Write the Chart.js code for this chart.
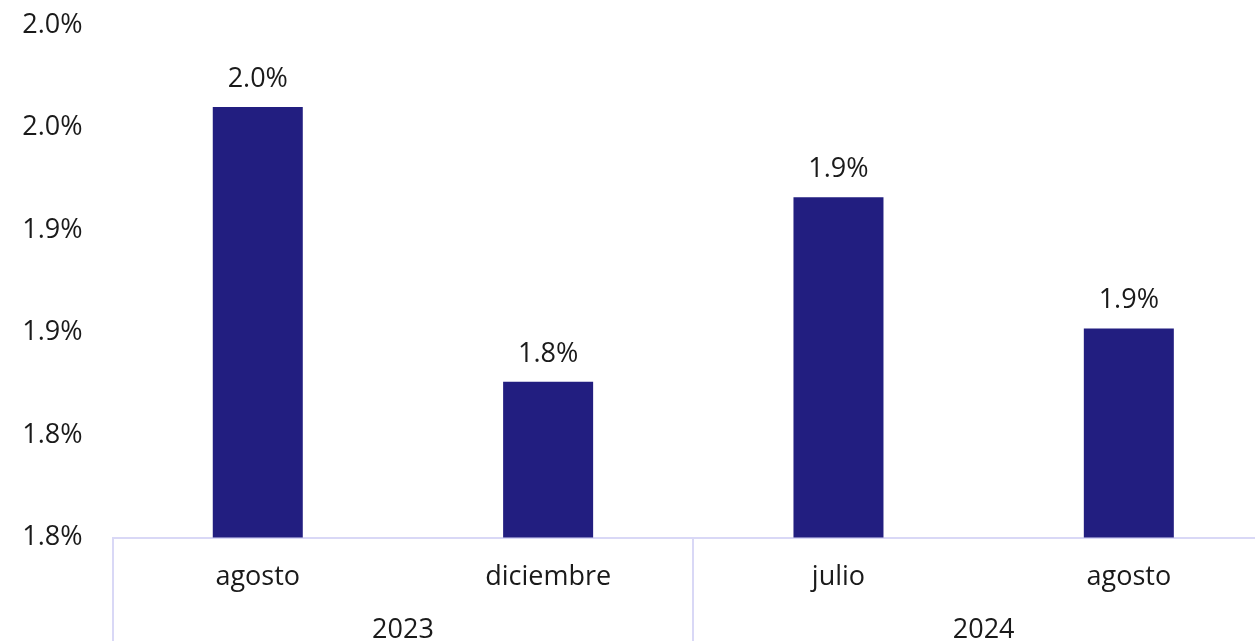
<!DOCTYPE html>
<html>
<head>
<meta charset="utf-8">
<script src="https://cdn.jsdelivr.net/npm/chart.js@4"></script>
<style>
    html, body { margin: 0; padding: 0; background: #fff; overflow: hidden; }
    #wrap { position: absolute; left: 0; top: 0; width: 1274px; height: 660px; }
</style>
</head>
<body>
<div id="wrap"><canvas id="bar-chart"></canvas></div>
<script>
// Chart data
var months = ['agosto', 'diciembre', 'julio', 'agosto'];
var years = ['2023', '2024'];
var values = [1.96, 1.826, 1.916, 1.852];
var valueLabels = ['2.0%', '1.8%', '1.9%', '1.9%'];
var yTickLabels = ['1.8%', '1.8%', '1.9%', '1.9%', '2.0%', '2.0%'];

var barColor = '#221e80';
var lineColor = '#d9d8f6';
var textColor = '#1a1a1a';
var font = { family: '"Open Sans", sans-serif', size: 27 };

// Labels above the bars
var valueLabelPlugin = {
    id: 'valueLabels',
    afterDatasetsDraw: function(chart) {
        var ctx = chart.ctx;
        var meta = chart.getDatasetMeta(0);
        ctx.save();
        ctx.font = font.size + 'px ' + font.family;
        ctx.fillStyle = textColor;
        ctx.textAlign = 'center';
        ctx.textBaseline = 'alphabetic';
        meta.data.forEach(function(bar, i) {
            ctx.fillText(valueLabels[i], bar.x, bar.y - 20);
        });
        ctx.restore();
    }
};

var chart = new Chart(document.getElementById('bar-chart'), {
    type: 'bar',
    data: {
        labels: months,
        datasets: [{
            data: values,
            backgroundColor: barColor,
            borderWidth: 0,
            categoryPercentage: 1,
            barPercentage: 0.31
        }]
    },
    options: {
        responsive: true,
        maintainAspectRatio: false,
        animation: false,
        layout: { padding: { top: 25, left: 0, right: 0, bottom: 0 } },
        plugins: {
            legend: { display: false },
            tooltip: { enabled: false }
        },
        scales: {
            y: {
                min: 1.75,
                max: 2.0,
                // invisible tick marks keep the labels away from the plot
                grid: { display: true, drawOnChartArea: false, drawTicks: true, tickLength: 30, color: 'rgba(0,0,0,0)' },
                border: { display: false },
                ticks: {
                    stepSize: 0.05,
                    padding: 0,
                    color: textColor,
                    font: font,
                    callback: function(value, index) {
                        return yTickLabels[index];
                    }
                },
                afterFit: function(scale) { scale.width = 112.6; }
            },
            x: {
                offset: true,
                grid: {
                    offset: true,
                    drawOnChartArea: false,
                    drawTicks: true,
                    tickLength: 130,
                    lineWidth: 2,
                    // only the group edges get a line
                    color: function(c) {
                        return (c.type !== 'tick' || c.index % 2 === 0) ? lineColor : 'rgba(0,0,0,0)';
                    }
                },
                border: { display: true, color: lineColor, width: 2 },
                ticks: { padding: -106, color: textColor, font: font, maxRotation: 0 },
                afterFit: function(scale) { scale.height = 70; }
            },
            x2: {
                type: 'category',
                labels: years,
                position: 'bottom',
                offset: true,
                grid: { display: false, drawTicks: false },
                border: { display: false },
                ticks: { padding: 7, color: textColor, font: font, maxRotation: 0 },
                afterFit: function(scale) { scale.height = 52.5; }
            }
        }
    },
    plugins: [valueLabelPlugin]
});
</script>
</body>
</html>
